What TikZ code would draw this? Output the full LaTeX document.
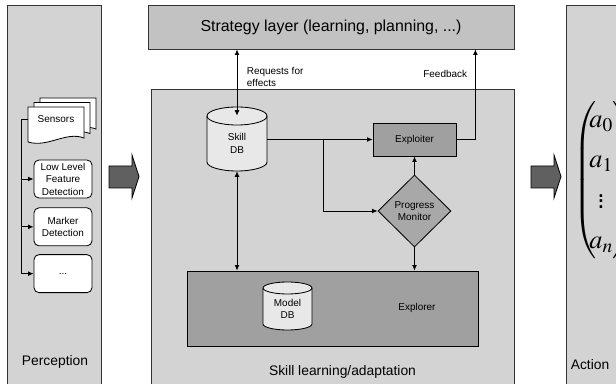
\documentclass[tikz,border=0pt]{standalone}
\usepackage{mathptmx}
\usepackage[no-math]{fontspec}
\setmainfont{Liberation Sans}
\usetikzlibrary{shapes.geometric, arrows.meta, positioning}

\definecolor{panelgray}{RGB}{211,211,211}
\definecolor{layergray}{RGB}{194,194,194}
\definecolor{boxgray}{RGB}{160,160,160}
\definecolor{monitorgray}{RGB}{168,168,168}
\definecolor{dbgray}{RGB}{232,232,232}
\definecolor{bigarrow}{RGB}{96,96,96}

\tikzset{
  panel/.style={draw=black!80, line width=0.6pt, fill=panelgray},
  small/.style={font=\fontsize{7.2}{9}\selectfont, align=center},
  proc/.style={small, draw, line width=0.6pt, fill=white, rounded corners=0.05in,
    minimum width=0.58in, minimum height=0.38in, inner sep=0},
  darkbox/.style={small, draw, line width=0.6pt, fill=boxgray, inner sep=0},
  link/.style={line width=0.6pt, -{Latex[length=4pt,width=3.5pt]}},
  twoway/.style={line width=0.6pt, {Latex[length=4pt,width=3.5pt]}-{Latex[length=4pt,width=3.5pt]}},
}

% database drum: centre x, centre y, half width, half height, end radius
\newcommand{\dbdrum}[5]{%
  \draw[line width=0.6pt, fill=dbgray]
    ({#1-#3},{#2+#4-#5}) -- ({#1-#3},{#2-#4+#5})
    arc[start angle=180, end angle=360, x radius=#3, y radius=#5]
    -- ({#1+#3},{#2+#4-#5})
    arc[start angle=0, end angle=180, x radius=#3, y radius=#5] -- cycle;
  \draw[line width=0.6pt] ({#1-#3},{#2+#4-#5})
    arc[start angle=180, end angle=360, x radius=#3, y radius=#5];
}

\begin{document}
\begin{tikzpicture}[x=1in,y=1in]
\useasboundingbox (0,0) rectangle (6.16,3.84);

% panels
\draw[panel] (0.0700,3.7900) rectangle (1.0100,-0.1000);
\draw[panel] (1.5100,2.9500) rectangle (5.1400,-0.1000);
\draw[panel] (5.6600,3.7900) rectangle (6.3000,-0.1000);
\node[font=\fontsize{10}{12}\selectfont] (perception) at (0.5500,0.2200) {Perception};
\node[font=\fontsize{10}{12}\selectfont] (skilllabel) at (3.4250,0.1200) {Skill learning/adaptation};
\node[font=\fontsize{10}{12}\selectfont] (action) at (5.9000,0.1900) {Action};

% big arrows between the stages
\foreach \x in {1.09,5.31}
  \draw[line width=0.6pt, fill=bigarrow, shift={(\x,0)}]
    (0,2.1800) -- (0.23,2.1800) -- (0.23,2.2900) -- (0.30,2.0750)
    -- (0.23,1.8600) -- (0.23,1.9600) -- (0,1.9600) -- cycle;

% perception: sensor sheets and detectors
\foreach \dx/\dy in {0.12/0.09,0.06/0.045,0/0}
  \draw[line width=0.6pt, fill=white, shift={(\dx,\dy)}]
    (0.28,2.77) -- (0.84,2.77) -- (0.84,2.46)
    .. controls (0.66,2.53) and (0.48,2.36) .. (0.28,2.42) -- cycle;
\node[small, minimum width=0.56in, minimum height=0.22in, inner sep=0] (sensors) at (0.5600,2.6500) {Sensors};
\node[proc] (lowlevel) at (0.6300,2.0500) {Low Level\\Feature\\Detection};
\node[proc, below=0.09in of lowlevel] (marker) {Marker\\Detection};
\node[proc, below=0.08in of marker] (more) {...};
\draw[line width=0.6pt] (sensors.west) -- ++(-0.06,0) coordinate (bus) -- (bus |- more.west);
\foreach \n in {lowlevel,marker,more}
  \draw[link] (bus |- \n.west) -- (\n.west);

% strategy layer and skill learning
\node[draw=black!80, line width=0.6pt, fill=layergray, minimum width=3.66in, minimum height=0.44in,
  font=\fontsize{11.5}{14}\selectfont] (strategy) at (3.3100,3.5700) {Strategy layer (learning, planning, ...)};
\dbdrum{2.37}{2.45}{0.30}{0.32}{0.09}
\node[small, minimum width=0.60in, minimum height=0.55in, inner sep=0] (skilldb) at (2.3700,2.4050) {Skill\\DB};
\node[darkbox, minimum width=0.83in, minimum height=0.33in] (exploiter) at (4.1450,2.4450) {Exploiter};
\node[small, diamond, draw, line width=0.6pt, fill=monitorgray, minimum width=0.73in,
  minimum height=0.72in, inner sep=0] (monitor) at (4.1450,1.7300) {Progress\\Monitor};
\node[darkbox, minimum width=2.91in, minimum height=0.75in] (explorer) at (3.3250,0.7550) {};
\node[small] (explorertext) at (4.1700,0.7600) {Explorer};
\dbdrum{2.875}{0.78}{0.245}{0.24}{0.06}
\node[small, minimum width=0.49in, minimum height=0.42in, inner sep=0] (modeldb) at (2.8750,0.7500) {Model\\DB};

\node[small, align=left, anchor=west] (requests) at (2.4200,3.0700) {Requests for\\effects};
\node[small, anchor=east] (feedback) at (4.7200,3.1000) {Feedback};

\coordinate (branch) at (3.2300,2.4450);
\draw[twoway] (skilldb.north |- strategy.south) -- (skilldb.north);
\draw[link] (exploiter.west -| skilldb.east) -- (exploiter.west);
\draw[link] (branch) |- (monitor.west);
\draw[link] (monitor.north) -- (exploiter.south);
\draw[link] (monitor.south) -- (monitor.south |- explorer.north);
\draw[twoway] (skilldb.south) -- (skilldb.south |- explorer.north);
\draw[link] (exploiter.east) -- ++(0.19,0) coordinate (fb) -- (fb |- strategy.south);

% action vector
\node[font=\fontsize{19}{29}\selectfont, inner sep=0, anchor=west] (actions) at (5.7300,2.0400)
  {$\delimitershortfall=14pt\left(\hspace{-5pt}\begin{array}{@{}c@{}} a_0\\ a_1\\ \vdots\\ a_n \end{array}\right)$};
\end{tikzpicture}
\end{document}
